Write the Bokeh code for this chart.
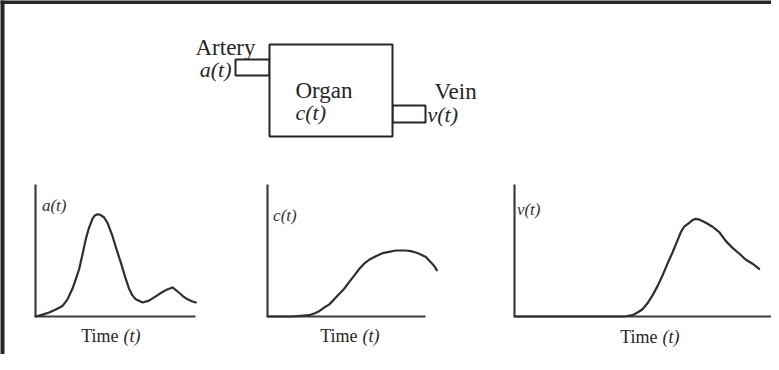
from bokeh.plotting import figure
from bokeh.models import Range1d
from bokeh.core.properties import value
from bokeh.embed import file_html
from bokeh.resources import INLINE

# ---------------- data ----------------
top_labels = ["Artery", "a(t)", "Organ", "c(t)", "Vein", "v(t)"]
curve_labels = ["a(t)", "c(t)", "v(t)"]
time_word = "Time"
time_var = "(t)"

# arterial input a(t)
a_time = [0.0, 0.4, 0.85, 1.2, 1.69, 2.0, 2.31, 2.52, 2.73, 2.94, 3.15, 3.35, 3.56, 3.7, 3.88,
          4.05, 4.29, 4.5, 4.81, 5.06, 5.33, 5.6, 5.85, 6.06, 6.27, 6.69, 7.1, 7.73, 8.15,
          8.56, 8.98, 9.19, 9.5, 9.77, 10.02]
a_value = [0.0, 0.012, 0.03, 0.05, 0.08, 0.13, 0.21, 0.283, 0.36, 0.472, 0.59, 0.674, 0.74, 0.765, 0.775,
           0.77, 0.75, 0.71, 0.61, 0.51, 0.41, 0.30, 0.21, 0.16, 0.13, 0.106, 0.12, 0.17, 0.20,
           0.22, 0.18, 0.157, 0.13, 0.116, 0.106]

# tissue curve c(t)
c_time = [0.0, 1.56, 2.6, 2.92, 3.23, 3.54, 3.85, 4.17, 4.48, 4.79, 5.1, 5.42, 5.73, 6.04, 6.35,
          6.77, 7.19, 7.6, 8.02, 8.65, 8.96, 9.27, 9.58, 9.9, 10.1, 10.3, 10.46, 10.58]
c_value = [0.0, 0.0, 0.01, 0.023, 0.04, 0.068, 0.09, 0.13, 0.17, 0.21, 0.26, 0.31, 0.36, 0.40, 0.43,
           0.457, 0.48, 0.49, 0.50, 0.50, 0.495, 0.485, 0.47, 0.45, 0.424, 0.40, 0.376, 0.35]

# venous output v(t)
v_time = [0.0, 6.54, 6.96, 7.375, 7.69, 8.0, 8.31, 8.625, 8.94, 9.25, 9.56, 9.875, 10.15, 10.4,
          10.6, 10.92, 11.125, 11.33, 11.54, 11.96, 12.375, 12.79, 13.2, 13.625, 14.04, 14.46,
          14.875, 15.29]
v_value = [0.0, 0.0, 0.002, 0.01, 0.03, 0.055, 0.10, 0.16, 0.23, 0.31, 0.40, 0.485, 0.565, 0.64,
           0.68, 0.71, 0.73, 0.74, 0.735, 0.71, 0.68, 0.64, 0.573, 0.52, 0.477, 0.43,
           0.40, 0.36]

# axis extents (time units / value units)
axis_time_end = [10.0, 9.875, 16.2]
axis_value_top = [1.0, 1.0, 1.0]

# ---------------- styling / layout ----------------
INK = "#262626"
CURVE = "#2e2e2e"
AXIS = "#3c3c3c"
SERIF = "Liberation Serif"
W, H = 771, 354
PX_T = 16.0    # pixels per time unit
PX_V = 132.0   # pixels per value unit
ORIGIN_Y = 316                 # pixel row of the three time axes
ORIGIN_X = [35, 267, 514]      # pixel column of each value axis
FRAME_W = 4

p = figure(width=W, height=H, x_range=Range1d(0, W), y_range=Range1d(H, 0),
           output_backend="svg", toolbar_location=None,
           x_axis_location=None, y_axis_location=None,
           min_border=0, outline_line_color=None,
           background_fill_color="white", border_fill_color="white")
p.grid.visible = False

# one value scale and one time scale per small plot
p.extra_y_ranges = {"val": Range1d(-(H - ORIGIN_Y) / PX_V, ORIGIN_Y / PX_V)}
p.extra_x_ranges = {
    name: Range1d(-ox / PX_T, (W - ox) / PX_T)
    for name, ox in zip(["ta", "tc", "tv"], ORIGIN_X)
}

# ---- frame lines ----
p.quad(left=[-2], right=[W + 2], top=[-2], bottom=[3.5], fill_color=INK, line_color=None)
p.quad(left=[-2], right=[FRAME_W], top=[-2], bottom=[H + 2], fill_color=INK, line_color=None)

# ---- organ diagram ----
p.quad(left=[235], right=[269], top=[59], bottom=[75], fill_color="white",
       line_color=INK, line_width=2)
p.quad(left=[392], right=[425], top=[105], bottom=[122], fill_color="white",
       line_color=INK, line_width=2)
p.quad(left=[269], right=[392], top=[44], bottom=[136], fill_color="white",
       line_color=INK, line_width=2)

p.text(x=[195], y=[47], text=[top_labels[0]], text_font=value(SERIF), text_font_size="23px",
       text_color=INK, text_align="left", text_baseline="alphabetic")
p.text(x=[231], y=[69], text=[top_labels[1]], text_font=value(SERIF), text_font_size="22px",
       text_font_style="italic", text_color=INK, text_align="right", text_baseline="middle")
p.text(x=[295], y=[90], text=[top_labels[2]], text_font=value(SERIF), text_font_size="23px",
       text_color=INK, text_align="left", text_baseline="alphabetic")
p.text(x=[295], y=[112], text=[top_labels[3]], text_font=value(SERIF), text_font_size="22px",
       text_font_style="italic", text_color=INK, text_align="left", text_baseline="middle")
p.text(x=[434], y=[91], text=[top_labels[4]], text_font=value(SERIF), text_font_size="23px",
       text_color=INK, text_align="left", text_baseline="alphabetic")
p.text(x=[427], y=[114], text=[top_labels[5]], text_font=value(SERIF), text_font_size="22px",
       text_font_style="italic", text_color=INK, text_align="left", text_baseline="middle")


# ---- the three small time plots ----
def mini(xname, times, values, idx, label_pos, time_center):
    kw = dict(x_range_name=xname, y_range_name="val")
    p.line(x=[0, 0], y=[0, axis_value_top[idx]], line_color=AXIS, line_width=2.2, **kw)
    p.line(x=[0, axis_time_end[idx]], y=[0, 0], line_color=AXIS, line_width=2.2, **kw)
    p.line(x=times, y=values, line_color=CURVE, line_width=2.2, line_join="round",
           line_cap="round", **kw)
    p.text(x=[label_pos[0]], y=[label_pos[1]], text=[curve_labels[idx]], text_font=value(SERIF),
           text_font_size="17px", text_font_style="italic", text_color="#333333",
           text_align="left", text_baseline="middle", **kw)
    p.text(x=[time_center[0]], y=[time_center[1]], text=[time_word], text_font=value(SERIF),
           text_font_size="18px", text_color=INK, text_align="right", text_baseline="middle",
           x_offset=8, **kw)
    p.text(x=[time_center[0]], y=[time_center[1]], text=[time_var], text_font=value(SERIF),
           text_font_size="18px", text_font_style="italic", text_color=INK, text_align="left",
           text_baseline="middle", x_offset=13, **kw)


mini("ta", a_time, a_value, 0, (0.40, 0.84), (4.69, -0.144))
mini("tc", c_time, c_value, 1, (0.35, 0.765), (5.125, -0.144))
mini("tv", v_time, v_value, 2, (0.15, 0.81), (8.44, -0.159))

open("out.html", "w").write(file_html(p, INLINE))
